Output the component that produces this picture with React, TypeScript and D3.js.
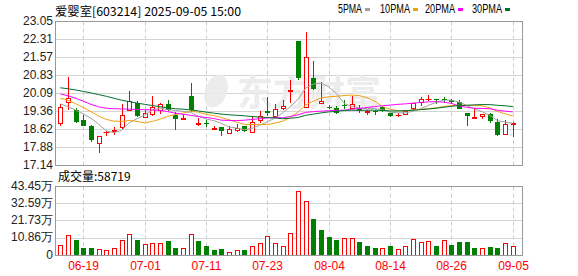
import React from 'react';
import * as d3 from 'd3';

const title = '爱婴室[603214] 2025-09-05 15:00';
const volumeLabel = '成交量:58719';

const dates = [
  '06-16','06-17','06-18','06-19','06-20','06-23','06-24','06-25','06-26','06-27','06-30',
  '07-01','07-02','07-03','07-04','07-07','07-08','07-09','07-10','07-11','07-14','07-15','07-16','07-17','07-18','07-21','07-22','07-23','07-24','07-25','07-28','07-29','07-30','07-31',
  '08-01','08-04','08-05','08-06','08-07','08-08','08-11','08-12','08-13','08-14','08-15','08-18','08-19','08-20','08-21','08-22','08-25','08-26','08-27','08-28','08-29',
  '09-01','09-02','09-03','09-04','09-05'
];

const openP = [18.88,19.74,19.42,18.99,18.78,18.05,18.50,18.55,18.71,19.42,
  19.72,19.12,19.26,19.40,19.67,19.23,19.05,20.01,18.83,18.89,
  18.62,18.74,18.48,18.60,18.75,18.53,18.99,19.36,19.19,19.51,
  20.18,22.23,19.56,20.72,19.70,19.54,19.49,19.63,19.49,19.49,
  19.33,19.37,19.53,19.28,19.20,19.26,19.51,19.74,19.85,19.88,
  19.85,19.81,19.74,19.30,19.10,19.19,19.26,18.94,18.44,18.86];
const highP = [19.67,20.79,19.49,19.22,18.80,18.37,18.55,18.71,19.67,20.18,
  19.78,19.40,20.01,19.70,19.81,19.33,19.22,20.52,19.10,18.99,
  18.78,18.74,18.78,18.85,18.78,19.12,19.36,19.97,19.67,19.81,
  20.63,22.23,22.61,21.41,20.56,19.63,19.57,19.81,19.98,19.63,
  19.42,19.40,19.57,19.28,19.28,19.40,19.71,19.97,20.04,19.88,
  19.97,19.85,19.84,19.30,19.52,19.26,19.28,19.06,19.02,18.92];
const lowP = [18.78,19.40,18.88,18.78,18.12,17.64,18.34,18.40,18.58,19.40,
  19.15,19.10,19.19,19.26,19.37,18.60,18.99,19.33,18.78,18.71,
  18.58,18.37,18.44,18.53,18.53,18.50,18.88,19.19,19.12,19.40,
  19.70,20.66,19.53,20.22,19.65,19.44,19.26,19.47,19.47,19.30,
  19.23,19.23,19.33,19.15,19.12,19.23,19.40,19.60,19.77,19.67,
  19.70,19.67,19.44,18.75,19.10,19.06,18.89,18.34,18.41,18.33];
const closeP = [19.56,19.92,18.94,18.78,18.19,18.37,18.53,18.58,19.22,19.78,
  19.19,19.30,19.56,19.67,19.42,19.03,19.10,19.40,18.87,18.86,
  18.66,18.55,18.64,18.67,18.55,18.92,19.19,19.30,19.47,19.60,
  20.22,20.72,21.61,20.26,19.79,19.48,19.30,19.60,19.67,19.40,
  19.36,19.35,19.36,19.19,19.23,19.36,19.71,19.88,19.88,19.81,
  19.81,19.74,19.47,19.16,19.13,19.26,18.96,18.40,18.85,18.88];

// volume in 万 (10k)
const volume = [6.4,12.7,9.5,4.9,4.9,4.2,3.6,4.9,10.0,13.8,
  9.5,7.0,8.1,8.1,8.9,4.9,4.9,13.8,8.9,5.7,
  3.6,4.2,2.5,3.2,3.6,6.2,8.1,12.5,8.1,5.7,
  14.4,40.7,34.4,22.9,15.9,11.5,9.5,11.3,11.3,8.3,
  5.7,4.5,4.9,5.7,4.2,5.7,10.2,8.3,8.9,5.7,
  9.5,6.4,8.3,8.3,4.9,4.9,5.1,4.5,7.6,5.8719];

const ma5 = [19.67,19.55,19.42,19.25,19.08,18.84,18.56,18.49,18.58,18.90,
  19.06,19.21,19.41,19.50,19.43,19.40,19.36,19.32,19.16,19.05,
  18.98,18.87,18.72,18.68,18.61,18.67,18.79,18.93,19.09,19.30,
  19.56,19.86,20.32,20.48,20.52,20.37,20.09,19.69,19.57,19.49,
  19.47,19.48,19.43,19.33,19.30,19.30,19.37,19.47,19.61,19.73,
  19.82,19.82,19.74,19.60,19.46,19.35,19.20,18.98,18.92,18.87];
const ma10 = [19.90,19.82,19.68,19.52,19.35,19.17,19.03,18.96,18.95,18.99,
  18.95,18.89,18.95,19.04,19.16,19.23,19.29,19.37,19.33,19.24,
  19.19,19.11,19.02,18.92,18.83,18.82,18.83,18.82,18.88,18.96,
  19.11,19.33,19.63,19.78,19.91,19.96,19.98,20.01,20.03,20.01,
  19.92,19.78,19.56,19.45,19.39,19.38,19.42,19.45,19.47,19.51,
  19.56,19.60,19.61,19.61,19.60,19.59,19.51,19.36,19.26,19.17];
const ma20 = [20.08,20.00,19.90,19.78,19.65,19.55,19.49,19.47,19.46,19.45,
  19.44,19.43,19.42,19.40,19.35,19.29,19.24,19.20,19.15,19.11,
  19.07,19.00,18.99,18.98,19.00,19.03,19.06,19.09,19.11,19.10,
  19.15,19.22,19.32,19.35,19.37,19.39,19.40,19.41,19.45,19.48,
  19.52,19.56,19.59,19.62,19.65,19.67,19.70,19.73,19.75,19.76,
  19.74,19.69,19.58,19.53,19.49,19.48,19.47,19.41,19.37,19.34];
const ma30 = [20.33,20.29,20.24,20.18,20.12,20.05,19.98,19.90,19.82,19.76,
  19.70,19.65,19.60,19.55,19.51,19.47,19.45,19.42,19.38,19.33,
  19.29,19.25,19.22,19.20,19.18,19.15,19.13,19.11,19.09,19.06,
  19.08,19.11,19.20,19.25,19.30,19.34,19.36,19.40,19.41,19.40,
  19.41,19.41,19.40,19.38,19.38,19.39,19.41,19.43,19.46,19.49,
  19.53,19.57,19.60,19.61,19.63,19.64,19.64,19.61,19.59,19.56];

const priceTicks = [23.05,22.31,21.57,20.83,20.09,19.36,18.62,17.88,17.14];
const volumeTicks = [43.45,32.59,21.73,10.86,0];
const volumeTickLabels = ['43.45万','32.59万','21.73万','10.86万','0'];
const xTickDates = ['06-19','07-01','07-11','07-23','08-04','08-14','08-26','09-05'];

const legendNames = ['5PMA','10PMA','20PMA','30PMA'];
const maSeries = [ma5, ma10, ma20, ma30];

const RED = '#ff0000';
const GREEN = '#008000';
const MA_COLORS = ['#a0a0a0', '#f0a010', '#ff00ff', '#006f2e'];

const W = 578, H = 276;
const PL = 55.5, PR = 522.5;
const PT = 21.5, PB = 165.5;
const VT = 186.5, VB = 255.5;

export default function App() {
  const x = d3.scalePoint<string>().domain(dates).range([60.3, 512.8]);
  const y = d3.scaleLinear().domain([17.14, 23.05]).range([PB, PT]);
  const yv = d3.scaleLinear().domain([0, 43.45]).range([VB, VT]);
  const cx = (d: string) => Math.round(x(d) as number);
  const snap = (v: number) => Math.round(v) + 0.5;

  const line = (arr: number[]) =>
    d3.line<string>()
      .x((d) => x(d) as number)
      .y((d, i) => y(arr[i]))(dates) as string;

  const labelFont = '"Liberation Sans", Arial, sans-serif';
  const cjkFont = '"Noto Sans CJK SC", "Liberation Sans", sans-serif';

  // legend layout
  const legendX = [338, 380, 425, 472];
  const legendW = [24, 30, 30, 30];

  return (
    <div style={{ position: 'absolute', left: 0, top: 0, width: W, height: H, background: '#fff' }}>
      <svg width={W} height={H} style={{ display: 'block' }}>
        <defs>
          <clipPath id="pclip">
            <rect x={PL} y={PT} width={PR - PL} height={PB - PT} />
          </clipPath>
        </defs>
        <rect x={0} y={0} width={W} height={H} fill="#fff" />

        {/* title */}
        <text x={55} y={12.5} fontFamily={cjkFont} fontSize={12} fill="#000" textLength={186} lengthAdjust="spacingAndGlyphs" dominantBaseline="middle">{title}</text>

        {/* legend */}
        {legendNames.map((n, i) => (
          <g key={n}>
            <text x={legendX[i]} y={9.5} fontFamily={labelFont} fontSize={12} fill="#000" textLength={legendW[i]} lengthAdjust="spacingAndGlyphs" dominantBaseline="middle">{n}</text>
            <rect x={legendX[i] + legendW[i] + 3} y={8} width={5} height={3} fill={MA_COLORS[i]} />
          </g>
        ))}

        {/* price grid */}
        {priceTicks.map((t) => (
          <line key={'pg' + t} x1={PL} x2={PR} y1={snap(y(t) - 0.5)} y2={snap(y(t) - 0.5)} stroke="#d4d4d4" />
        ))}
        {volumeTicks.map((t) => (
          <line key={'vg' + t} x1={PL} x2={PR} y1={snap(yv(t) - 0.5)} y2={snap(yv(t) - 0.5)} stroke="#d4d4d4" />
        ))}
        {xTickDates.map((d) => (
          <g key={'xg' + d}>
            <line x1={cx(d) + 0.5} x2={cx(d) + 0.5} y1={PT} y2={PB} stroke="#cccccc" strokeDasharray="4,3" />
            <line x1={cx(d) + 0.5} x2={cx(d) + 0.5} y1={VT} y2={VB} stroke="#cccccc" strokeDasharray="4,3" />
          </g>
        ))}

        {/* watermark */}
        <g opacity={0.9}>
          <ellipse cx={216} cy={91} rx={11} ry={17} transform="rotate(20 216 91)" fill="#ebebeb" />
          <text x={237} y={106} fontFamily={cjkFont} fontSize={36} fontWeight="bold" fill="#ebebeb">东方财富</text>
        </g>

        {/* candles */}
        <g clipPath="url(#pclip)">
          {dates.map((d, i) => {
            const c = cx(d);
            const o = openP[i], cl = closeP[i], h = highP[i], l = lowP[i];
            const up = cl >= o;
            const yTop = Math.round(y(Math.max(o, cl)));
            const yBot = Math.round(y(Math.min(o, cl)));
            const yh = Math.round(y(h));
            const yl = Math.round(y(l));
            if (up) {
              const bodyH = Math.max(yBot - yTop, 0);
              return (
                <g key={d}>
                  <line x1={c + 0.5} x2={c + 0.5} y1={yh} y2={yTop} stroke={RED} />
                  <line x1={c + 0.5} x2={c + 0.5} y1={yBot} y2={yl} stroke={RED} />
                  {bodyH < 1 ? (
                    <line x1={c - 2.5} x2={c + 3.5} y1={yTop + 0.5} y2={yTop + 0.5} stroke={RED} />
                  ) : (
                    <rect x={c - 1.5} y={yTop + 0.5} width={4} height={bodyH} fill="#fff" stroke={RED} />
                  )}
                </g>
              );
            }
            const bodyH = Math.max(yBot - yTop, 1);
            return (
              <g key={d}>
                <line x1={c + 0.5} x2={c + 0.5} y1={yh} y2={yl} stroke={GREEN} />
                {yBot - yTop < 1 ? (
                  <line x1={c - 2.5} x2={c + 3.5} y1={yTop + 0.5} y2={yTop + 0.5} stroke={GREEN} />
                ) : (
                  <rect x={c - 2} y={yTop} width={5} height={bodyH} fill={GREEN} />
                )}
              </g>
            );
          })}
          {maSeries.map((arr, k) => (
            <path key={'ma' + k} d={line(arr)} fill="none" stroke={MA_COLORS[k]} strokeWidth={1} />
          ))}
        </g>

        {/* volume bars */}
        {dates.map((d, i) => {
          const c = cx(d);
          const up = i === 0 ? true : closeP[i] >= closeP[i - 1];
          const top = Math.round(yv(volume[i]));
          const base = Math.round(yv(0));
          if (up) {
            return <rect key={'v' + d} x={c - 1.5} y={top + 0.5} width={4} height={Math.max(base - top - 1, 1)} fill="#fff" stroke={RED} />;
          }
          return <rect key={'v' + d} x={c - 2} y={top} width={5} height={base - top} fill={GREEN} />;
        })}

        {/* borders */}
        <rect x={PL} y={PT} width={PR - PL} height={PB - PT} fill="none" stroke="#999" />
        <rect x={PL} y={VT} width={PR - PL} height={VB - VT} fill="none" stroke="#999" />

        {/* price labels */}
        {priceTicks.map((t) => (
          <text key={'pl' + t} x={53} y={y(t)} textAnchor="end" dominantBaseline="middle" fontFamily={labelFont} fontSize={12} fill="#222">{t.toFixed(2)}</text>
        ))}
        {volumeTicks.map((t, i) => (
          <text key={'vl' + t} x={53} y={yv(t)} textAnchor="end" dominantBaseline="middle" fontFamily={labelFont} fontSize={12} fill="#222">{volumeTickLabels[i]}</text>
        ))}

        <text x={58} y={177.5} dominantBaseline="middle" fontFamily={cjkFont} fontSize={12} fill="#000">{volumeLabel}</text>

        {/* x labels */}
        {xTickDates.map((d) => (
          <text key={'xl' + d} x={cx(d) + 0.5} y={266.5} textAnchor="middle" dominantBaseline="middle" fontFamily={labelFont} fontSize={12} fill={RED}>{d}</text>
        ))}
      </svg>
    </div>
  );
}
